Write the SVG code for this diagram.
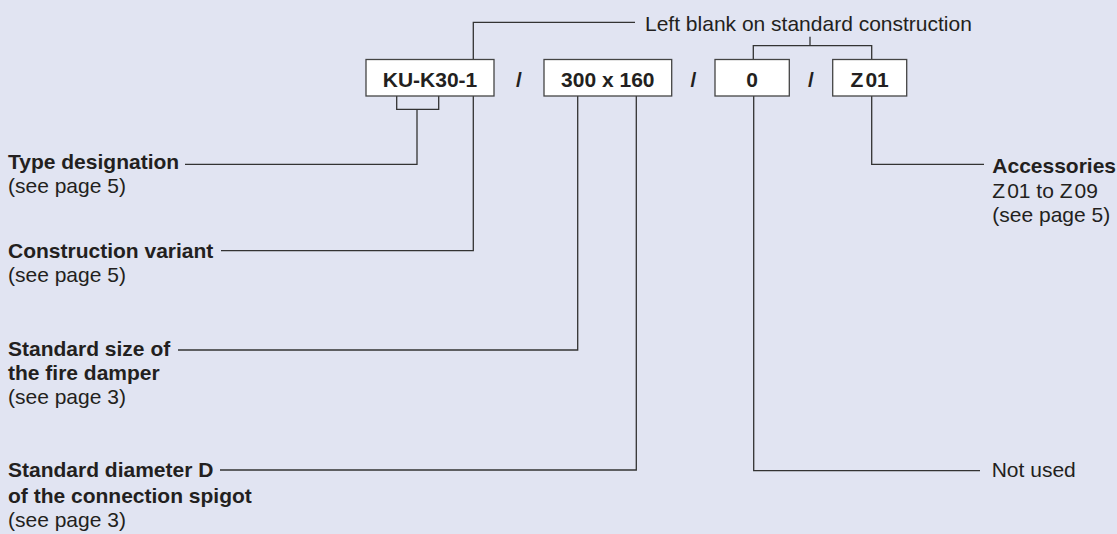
<svg xmlns="http://www.w3.org/2000/svg" width="1117" height="534" viewBox="0 0 1117 534">
<style>
text{font-family:"Liberation Sans",Arial,Helvetica,sans-serif;font-size:21px;fill:#231f20}
.b{font-weight:bold}
.m{text-anchor:middle}
.ln{fill:none;stroke:#333;stroke-width:1.3}
.box{fill:#fff;stroke:#444;stroke-width:1.3}
</style>
<rect width="1117" height="534" fill="#e1e4f2"/>
<g id="connectors" class="ln">
<path d="M473.3,59.3V22.3H635"/>
<path d="M473.3,96V250.7H221"/>
<path d="M396.7,96V109.3H438.7V96"/>
<path d="M417,109.3V164.3H185"/>
<path d="M753.3,59.3V45.7H871.7V59.3"/>
<path d="M810,45.7V36.7"/>
<path d="M577.7,96V350H178"/>
<path d="M636.3,96V470H220"/>
<path d="M753.7,96V470.7H980"/>
<path d="M871.7,96V164.3H984"/>
</g>
<g id="node-code1"><rect class="box" x="366" y="59.5" width="128" height="36.5"/><text class="b m" x="430" y="86.5">KU-K30-1</text></g>
<text class="b m" x="519" y="86.5">/</text>
<g id="node-code2"><rect class="box" x="544" y="59.5" width="127.7" height="36.5"/><text class="b m" x="607.8" y="86.5">300 x 160</text></g>
<text class="b m" x="693.4" y="86.5">/</text>
<g id="node-code3"><rect class="box" x="715" y="59.5" width="74.3" height="36.5"/><text class="b m" x="752.2" y="86.5">0</text></g>
<text class="b m" x="811" y="86.5">/</text>
<g id="node-code4"><rect class="box" x="832.7" y="59.5" width="74" height="36.5"/><text class="b m" x="869.7" y="86.5">Z<tspan dx="2">01</tspan></text></g>
<g id="note-blank"><text x="645" y="30.5">Left blank on standard construction</text></g>
<g id="label-type"><text class="b" x="8" y="169.3">Type designation</text><text x="8" y="193">(see page 5)</text></g>
<g id="label-variant"><text class="b" x="8" y="258.3">Construction variant</text><text x="8" y="282">(see page 5)</text></g>
<g id="label-size"><text class="b" x="8" y="356">Standard size of</text><text class="b" x="8" y="380">the fire damper</text><text x="8" y="404">(see page 3)</text></g>
<g id="label-diameter"><text class="b" x="8" y="476.7">Standard diameter D</text><text class="b" x="8" y="503">of the connection spigot</text><text x="8" y="527">(see page 3)</text></g>
<g id="label-accessories"><text class="b" x="992.3" y="173.3">Accessories</text><text x="992.3" y="198">Z<tspan dx="2">01 to Z</tspan><tspan dx="2">09</tspan></text><text x="992.3" y="222">(see page 5)</text></g>
<g id="label-notused"><text x="991.7" y="476.5">Not used</text></g>
</svg>
